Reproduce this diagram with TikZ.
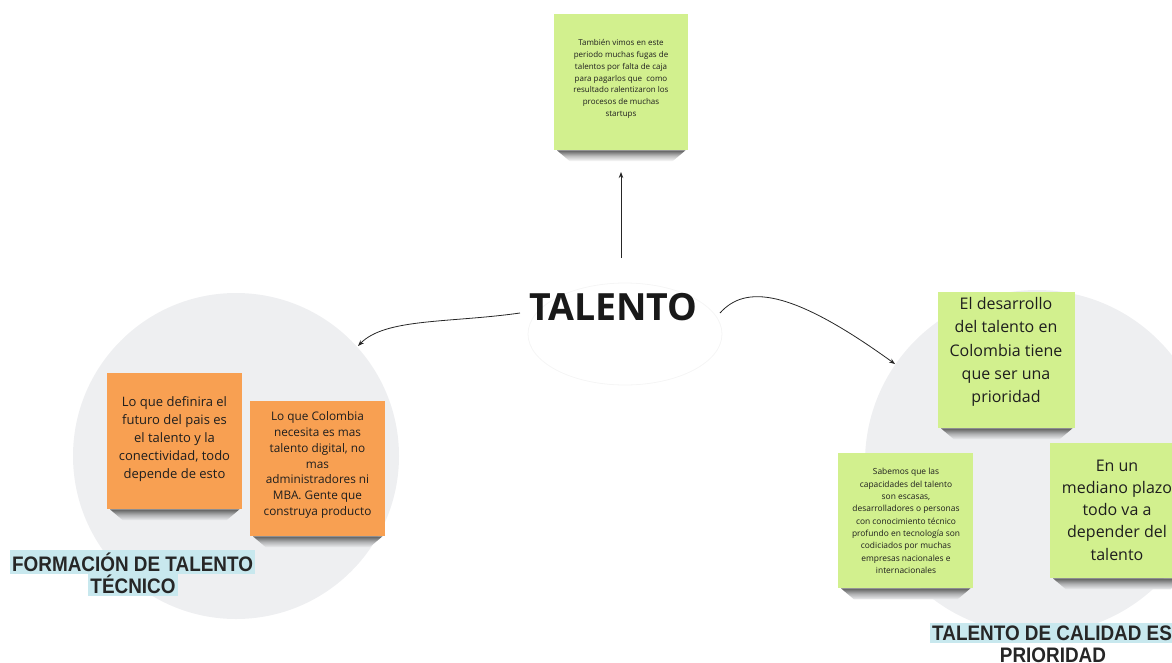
\documentclass[tikz,border=0pt]{standalone}
\usepackage{fontspec}
\setmainfont{Open Sans}
\newfontfamily\labelfont[FakeStretch=0.9]{Liberation Sans}
\usetikzlibrary{arrows.meta}
\definecolor{notegreen}{RGB}{210,240,142}
\definecolor{noteorange}{RGB}{248,160,82}
\definecolor{bubble}{RGB}{238,239,241}
\definecolor{hl}{RGB}{200,232,238}
\definecolor{ink}{RGB}{30,30,30}
\newcommand\noteshade[2]{%
  \shade[top color=black!62, bottom color=#2, middle color=black!25!#2]
    ([xshift=3pt]#1.south west) -- ([xshift=-3pt]#1.south east)
    -- ([xshift=-16pt,yshift=-11pt]#1.south east) -- ([xshift=16pt,yshift=-11pt]#1.south west) -- cycle;}
\tikzset{
  x=1pt, y=-1pt,
  notebox/.style={inner sep=0pt, anchor=north west},
  gbox/.style={notebox, fill=notegreen},
  obox/.style={notebox, fill=noteorange},
  notetext/.style={align=center, text=ink, inner sep=0pt},
  conn/.style={draw=black!85, line width=0.8pt, -{Stealth[length=6pt,width=4.5pt]}},
  seclabel/.style={font=\labelfont\bfseries\fontsize{21}{21}\selectfont, text=black!85, align=center, inner xsep=2pt, inner ysep=2.5pt}
}
\begin{document}
\begin{tikzpicture}
\useasboundingbox (0,0) rectangle (1172,662);
% background bubbles
\fill[bubble] (236,456) circle[radius=163];
\fill[bubble] (1037,462) circle[radius=172];
\draw[black!4, line width=0.8pt] (625,334) ellipse[x radius=97, y radius=51];

% top note
\node[gbox, minimum width=134pt, minimum height=136pt] (top) at (554,14) {};
\noteshade{top}{white}
\node[notetext, font=\fontsize{8}{11.8}\selectfont] (topt) at (621,79)
  {También vimos en este\\ periodo muchas fugas de\\ talentos por falta de caja\\ para pagarlos que \ como\\ resultado ralentizaron los\\ procesos de muchas\\ startups};

% center title
\node[font=\bfseries\fontsize{37.5}{37.5}\selectfont, text=black!90, inner sep=0pt] (talento) at (613.5,307.5) {TALENTO};
\coordinate (upstart) at (621,258);
\coordinate (uptip) at (621,172);
\coordinate (lstart) at (520,313);
\coordinate (rstart) at (720,313);
\coordinate (lend) at (358,346);
\coordinate (rend) at (895,364);

% left cluster
\node[obox, minimum width=135pt, minimum height=136pt] (o1) at (107,373) {};
\noteshade{o1}{bubble}
\node[notetext, font=\fontsize{13}{17.8}\selectfont] (o1t) at (174.5,439)
  {Lo que definira el\\ futuro del pais es\\ el talento y la\\ conectividad, todo\\ depende de esto};
\node[obox, minimum width=135pt, minimum height=135pt] (o2) at (250,401) {};
\noteshade{o2}{bubble}
\node[notetext, font=\fontsize{11.8}{15.8}\selectfont] (o2t) at (317.5,465)
  {Lo que Colombia\\ necesita es mas\\ talento digital, no\\ mas\\ administradores ni\\ MBA. Gente que\\ construya producto};

\node[seclabel, fill=hl, anchor=north west] (fl1) at (10,550) {FORMACIÓN DE TALENTO};
\node[seclabel, fill=hl, anchor=north] (fl2) at (133,572) {TÉCNICO};

% right cluster
\node[gbox, minimum width=137pt, minimum height=136pt] (g1) at (938,292) {};
\noteshade{g1}{bubble}
\node[notetext, font=\fontsize{16}{23.2}\selectfont] (g1t) at (1006,352)
  {El desarrollo\\ del talento en\\ Colombia tiene\\ que ser una\\ prioridad};
\node[gbox, minimum width=135pt, minimum height=135pt] (g2) at (838,453) {};
\noteshade{g2}{bubble}
\node[notetext, font=\fontsize{8.4}{12.3}\selectfont] (g2t) at (906,521)
  {Sabemos que las\\ capacidades del talento\\ son escasas,\\ desarrolladores o personas\\ con conocimiento técnico\\ profundo en tecnología son\\ codiciados por muchas\\ empresas nacionales e\\ internacionales};
\node[gbox, minimum width=136pt, minimum height=135pt] (g3) at (1050,443) {};
\noteshade{g3}{bubble}
\node[notetext, font=\fontsize{16}{22.3}\selectfont] (g3t) at (1117,510)
  {En un\\ mediano plazo\\ todo va a\\ depender del\\ talento};

\node[seclabel, fill=hl, anchor=north west] (rl1) at (930,623) {TALENTO DE CALIDAD ES};
\node[seclabel, anchor=north] (rl2) at (1053,645) {PRIORIDAD};

% connectors
\draw[conn] (upstart) -- (uptip);
\draw[conn] (lstart) .. controls (450,323) and (385,318) .. (lend);
\draw[conn] (rstart) .. controls (745,285) and (790,288) .. (rend);
\end{tikzpicture}
\end{document}
